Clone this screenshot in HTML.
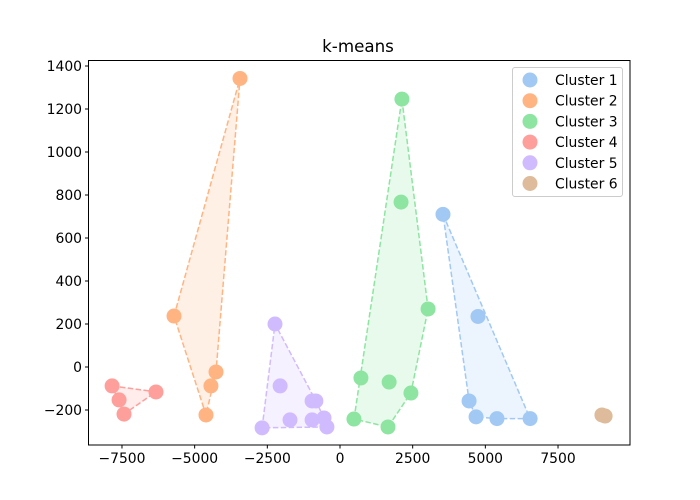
<!DOCTYPE html>
<html><head><meta charset="utf-8"><style>
html,body{margin:0;padding:0;background:#fff;}
svg{display:block;font-family:"DejaVu Sans","Liberation Sans",sans-serif;}
</style></head><body>
<svg id="chart" width="700" height="500" viewBox="0 0 700 500">
<rect width="700" height="500" fill="#fff"/>
<text x="358" y="52" font-size="16.7" text-anchor="middle">k-means</text>
<g id="plot"></g>
<rect x="88.5" y="60.5" width="541.5" height="384.5" fill="none" stroke="#000" stroke-width="1"/>
<g id="legend"></g>
</svg>
<script>
const clusterNames = ["Cluster 1","Cluster 2","Cluster 3","Cluster 4","Cluster 5","Cluster 6"];
const clusterColors = ["#a1c9f4","#ffb482","#8de5a1","#ff9f9b","#d0bbff","#debb9b"];
const c1x = [3543,4747,4440,4680,5400,6540];
const c1y = [710,235,-158,-232,-240,-240];
const c2x = [-3440,-5710,-4265,-4440,-4610];
const c2y = [1342,237,-23,-88,-223];
const c3x = [2130,2100,3030,720,1690,2440,480,1650];
const c3y = [1246,767,270,-51,-70,-121,-242,-279];
const c4x = [-7840,-7600,-7430,-6330];
const c4y = [-88,-153,-219,-116];
const c5x = [-2236,-2060,-960,-830,-1720,-960,-550,-450,-2680];
const c5y = [200,-88,-158,-158,-246,-246,-237,-279,-283];
const c6x = [9010,9120];
const c6y = [-223,-228];
const xTicks = [-7500,-5000,-2500,0,2500,5000,7500];
const yTicks = [-200,0,200,400,600,800,1000,1200,1400];

const clustersX=[c1x,c2x,c3x,c4x,c5x,c6x];
const clustersY=[c1y,c2y,c3y,c4y,c5y,c6y];
const NS="http://www.w3.org/2000/svg";
function sx(v){return 340+v*0.02907;}
function sy(v){return 367-v*0.215;}
function mk(tag,attrs,parent){const e=document.createElementNS(NS,tag);for(const k in attrs)e.setAttribute(k,attrs[k]);parent.appendChild(e);return e;}
const svg=document.getElementById('chart');
const plot=document.getElementById('plot');
// ticks
xTicks.forEach(t=>{
  const x=sx(t);
  const l=mk('line',{x1:x,x2:x,y1:445,y2:448.5,stroke:'#000'},svg);
  
  
  const tx=mk('text',{x:x,y:463,'font-size':13.9,'text-anchor':'middle'},svg);
  tx.textContent=(t<0?'\u2212'+(-t):String(t));
  
  
});
yTicks.forEach(t=>{
  const y=sy(t);
  const l=mk('line',{x1:85,x2:88.5,y1:y,y2:y,stroke:'#000'},svg);
  
  
  const tx=mk('text',{x:82,y:y+5,'font-size':13.9,'text-anchor':'end'},svg);
  tx.textContent=(t<0?'\u2212'+(-t):String(t));
  
  
});
function hull(pts){
  pts=pts.slice().sort((a,b)=>a[0]-b[0]||a[1]-b[1]);
  const cr=(o,a,b)=>(a[0]-o[0])*(b[1]-o[1])-(a[1]-o[1])*(b[0]-o[0]);
  const lo=[],up=[];
  for(const p of pts){while(lo.length>=2&&cr(lo[lo.length-2],lo[lo.length-1],p)<=0)lo.pop();lo.push(p);}
  for(let i=pts.length-1;i>=0;i--){const p=pts[i];while(up.length>=2&&cr(up[up.length-2],up[up.length-1],p)<=0)up.pop();up.push(p);}
  up.pop();lo.pop();return lo.concat(up);
}
clustersX.forEach((xs,ci)=>{
  const ys=clustersY[ci];const col=clusterColors[ci];
  const pts=xs.map((v,i)=>[sx(v),sy(ys[i])]);
  if(pts.length>=3){
    const h=hull(pts);
    const d=h.map(p=>p[0].toFixed(1)+','+p[1].toFixed(1)).join(' ');
    const pg=mk('polygon',{points:d,fill:col,'fill-opacity':0.2,stroke:col,'stroke-width':1.5,'stroke-dasharray':'5.5,2.4'},plot);
    
    
  }
  pts.forEach(p=>{
    const c=mk('circle',{cx:p[0],cy:p[1],r:7.5,fill:col},plot);
    
    
  });
});
// legend
const lg=document.getElementById('legend');
const box=mk('rect',{x:512.5,y:67.5,width:110,height:129,rx:2.5,fill:'#fff','fill-opacity':0.8,stroke:'#ccc'},lg);


clusterNames.forEach((n,i)=>{
  const y=80+i*20.7;
  const c=mk('circle',{cx:530,cy:y,r:7.5,fill:clusterColors[i]},lg);
  
  
  const t=mk('text',{x:555,y:y+5,'font-size':13.9},lg);
  t.textContent=n;
  
  
});
</script>
</body></html>
